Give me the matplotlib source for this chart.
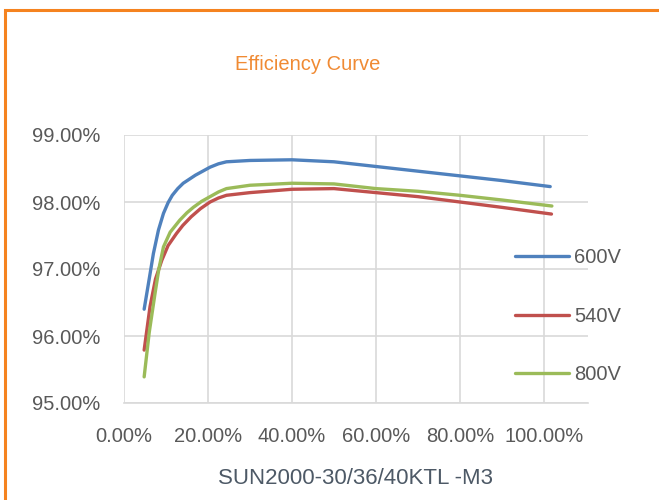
import matplotlib
matplotlib.use("Agg")
import matplotlib.pyplot as plt
from matplotlib.patches import Rectangle
from matplotlib.ticker import PercentFormatter

plt.rcParams['font.family'] = ['Liberation Sans', 'DejaVu Sans']

# ---- data (load %, efficiency %) ----
load_600 = [4.8, 6.0, 7.0, 8.2, 9.4, 10.5, 11.5, 12.8, 14.1, 17.0, 20.5, 22.5, 24.4, 30, 40, 50,
            60, 70, 80, 90, 101.5]
eff_600 = [96.40, 96.85, 97.23, 97.58, 97.83, 97.99, 98.10, 98.20, 98.28, 98.40, 98.52, 98.57,
           98.60, 98.62, 98.63, 98.60, 98.53, 98.46, 98.39, 98.32, 98.23]

load_540 = [4.8, 6.2, 7.5, 9.0, 10.5, 12.5, 14.0, 16.0, 18.2, 20.5, 22.5, 24.4, 30, 40, 50, 60,
            70, 80, 90, 101.8]
eff_540 = [95.79, 96.44, 96.85, 97.13, 97.35, 97.53, 97.65, 97.78, 97.90, 98.00, 98.06, 98.10,
           98.14, 98.19, 98.20, 98.14, 98.08, 98.00, 97.92, 97.82]

load_800 = [4.8, 6.0, 7.4, 8.3, 9.4, 11.0, 13.3, 15.0, 16.5, 18.5, 20.5, 22.5, 24.4, 30, 40, 50,
            60, 70, 80, 90, 101.9]
eff_800 = [95.39, 96.05, 96.64, 97.00, 97.33, 97.55, 97.73, 97.84, 97.92, 98.01, 98.08, 98.15,
           98.20, 98.25, 98.28, 98.27, 98.20, 98.16, 98.10, 98.03, 97.94]

series = [("600V", load_600, eff_600, "#4F81BD"),
          ("540V", load_540, eff_540, "#C0504D"),
          ("800V", load_800, eff_800, "#9BBB59")]

W, H = 659, 500
fig = plt.figure(figsize=(W / 100, H / 100), dpi=100)

# orange frame (runs off the right and bottom edges)
fig.patches.append(Rectangle((5 / W, -0.1), 1.2, (H - 10) / H + 0.1, transform=fig.transFigure,
                             fill=False, edgecolor="#F5831F", lw=2.2, zorder=0))

ax = fig.add_axes([124 / W, (H - 403) / H, (588 - 124) / W, (403 - 135) / H])

for name, x, y, c in series:
    ax.plot([v / 100 for v in x], [v / 100 for v in y], color=c, lw=2.4,
            solid_capstyle="round", solid_joinstyle="round", label=name)

ax.set_xlim(0, 1.105)
ax.set_ylim(0.95, 0.99)
ax.set_xticks([0, 0.2, 0.4, 0.6, 0.8, 1.0])
ax.set_yticks([0.95, 0.96, 0.97, 0.98, 0.99])
ax.xaxis.set_major_formatter(PercentFormatter(1.0, decimals=2))
ax.yaxis.set_major_formatter(PercentFormatter(1.0, decimals=2))
ax.grid(True, color="#D9D9D9", lw=1.2)
ax.set_axisbelow(True)
for s in ["top", "right", "left"]:
    ax.spines[s].set_visible(False)
ax.spines["bottom"].set_color("#D9D9D9")
ax.spines["bottom"].set_linewidth(1.2)
ax.tick_params(axis="both", length=0, labelsize=14.5, labelcolor="#595959")
ax.tick_params(axis="y", pad=17)
ax.tick_params(axis="x", pad=17)

ax.set_xlabel("SUN2000-30/36/40KTL -M3", fontsize=16, color="#4D5966", labelpad=16)
fig.text(308 / W, 1 - 65 / H, "Efficiency Curve", fontsize=14.5, color="#F08A33",
         ha="center", va="center")

fig.legend(loc="upper left", bbox_to_anchor=(515 / W, 1 - 248 / H), frameon=False,
           fontsize=14.5, labelcolor="#595959", handlelength=2.7, handletextpad=0.25,
           labelspacing=1.97, borderpad=0, borderaxespad=0)

fig.savefig("out.png", dpi=100)
